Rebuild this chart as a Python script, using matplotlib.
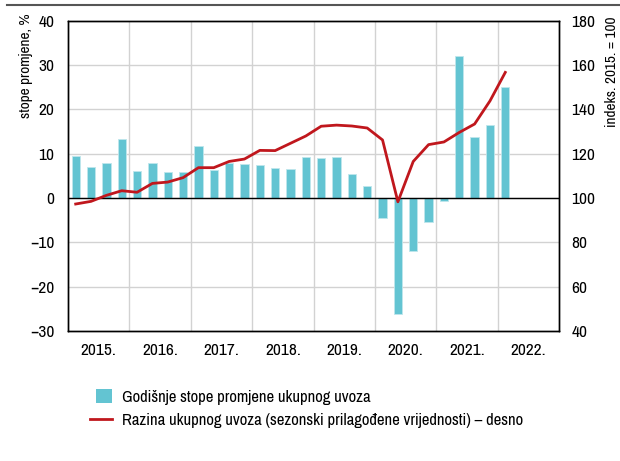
"""Annual import growth rates (bars) and seasonally adjusted import level (line, right axis)."""
import matplotlib
matplotlib.use("Agg")
import matplotlib.pyplot as plt
from matplotlib.legend_handler import HandlerPatch
from matplotlib.lines import Line2D
from matplotlib.patches import Patch, Rectangle

plt.rcParams["font.family"] = ["Archivo Narrow", "Liberation Sans", "DejaVu Sans"]

# Quarterly data, 2015 Q1 .. 2022 Q1
start_year = 2015
growth_pct = [
    9.5, 7.0, 8.0, 13.4,
    6.1, 8.0, 5.8, 5.9,
    11.7, 6.4, 8.0, 7.7,
    7.5, 6.7, 6.5, 9.2,
    9.1, 9.2, 5.4, 2.7,
    -4.6, -26.1, -12.0, -5.5,
    -0.7, 32.1, 13.8, 16.4,
    25.0,
]
import_index = [
    97.3, 98.5, 101.2, 103.3,
    102.6, 106.6, 107.2, 109.2,
    113.7, 113.7, 116.5, 117.6,
    121.5, 121.4, 124.7, 128.0,
    132.4, 132.9, 132.5, 131.6,
    126.2, 98.3, 116.5, 124.1,
    125.3, 129.6, 133.4, 143.8,
    156.7,
]
year_labels = ["2015.", "2016.", "2017.", "2018.", "2019.", "2020.", "2021.", "2022."]

bar_color = "#63c4d2"
line_color = "#c0171d"
grid_color = "#d2d2d2"


def narrow_patch(legend, orig_handle, xdescent, ydescent, width, height, fontsize):
    # Legend square is a bit narrower than the line sample.
    return Rectangle((-xdescent + width * 0.25, -ydescent), width * 0.75, height)


def plot():
    fig = plt.figure(figsize=(6.2, 4.61), dpi=100)
    fig.patch.set_facecolor("white")
    ax = fig.add_axes([0.1097, 0.282, 0.7919, 0.673])
    ax2 = ax.twinx()

    x = [start_year + (i + 0.5) / 4 for i in range(len(growth_pct))]

    # Grid: horizontal at ticks, vertical at year boundaries.
    ax.set_xlim(start_year, start_year + len(year_labels))
    ax.set_ylim(-30, 40)
    ax.set_yticks(range(-30, 41, 10))
    ax.set_yticklabels([f"{v}".replace("-", "\u2212") for v in range(-30, 41, 10)])
    for v in range(-20, 40, 10):
        ax.axhline(v, color=grid_color, lw=1.0, zorder=0)
    for yr in range(start_year + 1, start_year + len(year_labels)):
        ax.axvline(yr, color=grid_color, lw=1.0, zorder=0)
    ax.axhline(0, color="black", lw=1.0, zorder=3)

    ax.bar(x, growth_pct, width=0.135, color=bar_color, edgecolor="#bfe6ec",
           linewidth=0.6, zorder=2)

    ax.set_xticks([start_year + i + 0.5 for i in range(len(year_labels))])
    ax.set_xticklabels(year_labels)

    ax2.set_ylim(40, 180)
    ax2.set_yticks(range(40, 181, 20))
    ax2.plot(x, import_index, color=line_color, lw=2.0, zorder=4)

    for a in (ax, ax2):
        a.tick_params(length=0, labelsize=12.5)
        for s in a.spines.values():
            s.set_color("black")
            s.set_linewidth(1.0)
    ax.tick_params(axis="y", pad=10)
    ax.tick_params(axis="x", pad=9)
    ax2.tick_params(axis="y", pad=9)

    ax.set_ylabel("stope promjene, %", fontsize=11)
    ax.yaxis.set_label_coords(-0.1, 1.022)
    ax.yaxis.label.set_va("top")
    ax.yaxis.label.set_ha("right")
    ax2.set_ylabel("indeks. 2015. = 100", fontsize=11)
    ax2.yaxis.set_label_coords(1.094, 1.015)
    ax2.yaxis.label.set_ha("right")

    # Gray rule at the top of the figure.
    fig.add_artist(Line2D([0.011, 1.0], [0.989, 0.989], color="#555555", lw=1.5))

    handles = [
        Patch(facecolor=bar_color, edgecolor="none"),
        Line2D([], [], color=line_color, lw=2.0),
    ]
    labels = [
        "Godišnje stope promjene ukupnog uvoza",
        "Razina ukupnog uvoza (sezonski prilagođene vrijednosti) \u2013 desno",
    ]
    fig.legend(handles, labels, loc="upper left", bbox_to_anchor=(0.135, 0.17),
               frameon=False, fontsize=12, handlelength=1.3, handleheight=0.9,
               handletextpad=0.6, labelspacing=0.45, borderaxespad=0,
               handler_map={Patch: HandlerPatch(patch_func=narrow_patch)})

    plt.savefig("out.png", dpi=100)


if __name__ == "__main__":
    plot()
